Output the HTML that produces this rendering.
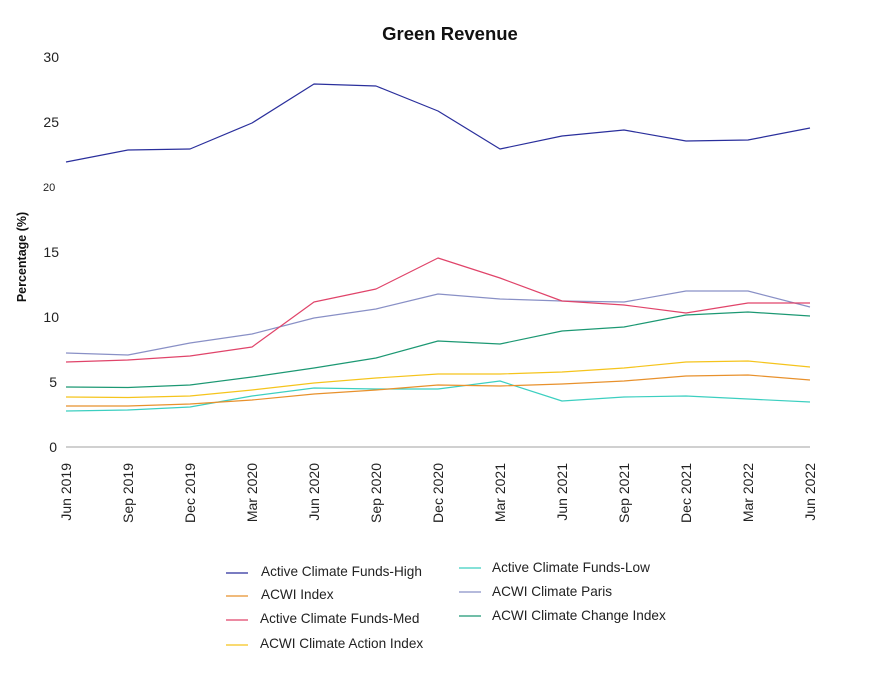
<!DOCTYPE html>
<html>
<head>
<meta charset="utf-8">
<style>
  html,body{margin:0;padding:0;background:#fff;}
  svg{display:block;font-family:"Liberation Sans",Arial,sans-serif;}
</style>
</head>
<body>
<svg width="870" height="678" viewBox="0 0 870 678" xmlns="http://www.w3.org/2000/svg">
  <rect width="870" height="678" fill="#fff"/>
  <text x="450" y="40" text-anchor="middle" font-size="18.5" font-weight="bold" fill="#111">Green Revenue</text>

  <!-- y tick labels -->
  <g font-size="14" fill="#222" text-anchor="end">
    <text x="59" y="62">30</text>
    <text x="59" y="127">25</text>
    <text x="59" y="257">15</text>
    <text x="59" y="322">10</text>
    <text x="57" y="387">5</text>
    <text x="57" y="452">0</text>
  </g>
  <text x="43" y="191" font-size="11" fill="#222">20</text>

  <text transform="translate(26,257) rotate(-90)" text-anchor="middle" font-size="12.5" font-weight="bold" fill="#111">Percentage (%)</text>

  <!-- baseline -->
  <line x1="66" y1="447" x2="810" y2="447" stroke="#b5b5b5" stroke-width="1.2"/>

  <!-- x labels -->
  <g font-size="14" fill="#222" text-anchor="end">
    <text transform="translate(71,463) rotate(-90)">Jun 2019</text>
    <text transform="translate(133,463) rotate(-90)">Sep 2019</text>
    <text transform="translate(195,463) rotate(-90)">Dec 2019</text>
    <text transform="translate(257,463) rotate(-90)">Mar 2020</text>
    <text transform="translate(319,463) rotate(-90)">Jun 2020</text>
    <text transform="translate(381,463) rotate(-90)">Sep 2020</text>
    <text transform="translate(443,463) rotate(-90)">Dec 2020</text>
    <text transform="translate(505,463) rotate(-90)">Mar 2021</text>
    <text transform="translate(567,463) rotate(-90)">Jun 2021</text>
    <text transform="translate(629,463) rotate(-90)">Sep 2021</text>
    <text transform="translate(691,463) rotate(-90)">Dec 2021</text>
    <text transform="translate(753,463) rotate(-90)">Mar 2022</text>
    <text transform="translate(815,463) rotate(-90)">Jun 2022</text>
  </g>

  <!-- series -->
  <g fill="none" stroke-width="1.2" stroke-linejoin="round">
    <polyline stroke="#3ccfc0" points="66,411 128,410 190,407 252,396 314,388 376,389 438,389 500,381 562,401 624,397 686,396 748,399 810,402"/>
    <polyline stroke="#e8912c" points="66,406 128,406 190,404 252,400 314,394 376,390 438,385 500,386 562,384 624,381 686,376 748,375 810,380"/>
    <polyline stroke="#f5c41c" points="66,397 128,397.5 190,396 252,390 314,383 376,378 438,374 500,374 562,372 624,368 686,362 748,361 810,367"/>
    <polyline stroke="#1c9873" points="66,387 128,387.5 190,385 252,377 314,368 376,358 438,341 500,344 562,331 624,327 686,315 748,312 810,316"/>
    <polyline stroke="#8990c6" points="66,353 128,355 190,343 252,334 314,318 376,309 438,294 500,299 562,301 624,302 686,291 748,291 810,307"/>
    <polyline stroke="#e0446a" points="66,362 128,360 190,356 252,347 314,302 376,289 438,258 500,278 562,301 624,305 686,313 748,303 810,303"/>
    <polyline stroke="#2a2f9c" points="66,162 128,150 190,149 252,123 314,84 376,86 438,111 500,149 562,136 624,130 686,141 748,140 810,128"/>
  </g>

  <!-- legend -->
  <g stroke-width="1.3">
    <line x1="226" y1="573" x2="248" y2="573" stroke="#2a2f9c"/>
    <line x1="226" y1="596" x2="248" y2="596" stroke="#e8912c"/>
    <line x1="226" y1="620" x2="248" y2="620" stroke="#e0446a"/>
    <line x1="226" y1="645" x2="248" y2="645" stroke="#f5c41c"/>
    <line x1="459" y1="568" x2="481" y2="568" stroke="#3ccfc0"/>
    <line x1="459" y1="592" x2="481" y2="592" stroke="#8990c6"/>
    <line x1="459" y1="616" x2="481" y2="616" stroke="#1c9873"/>
  </g>
  <g font-size="13.6" fill="#222">
    <text x="261" y="576">Active Climate Funds-High</text>
    <text x="261" y="599">ACWI Index</text>
    <text x="260" y="623">Active Climate Funds-Med</text>
    <text x="260" y="648">ACWI Climate Action Index</text>
    <text x="492" y="572">Active Climate Funds-Low</text>
    <text x="492" y="596">ACWI Climate Paris</text>
    <text x="492" y="620">ACWI Climate Change Index</text>
  </g>
</svg>
</body>
</html>
